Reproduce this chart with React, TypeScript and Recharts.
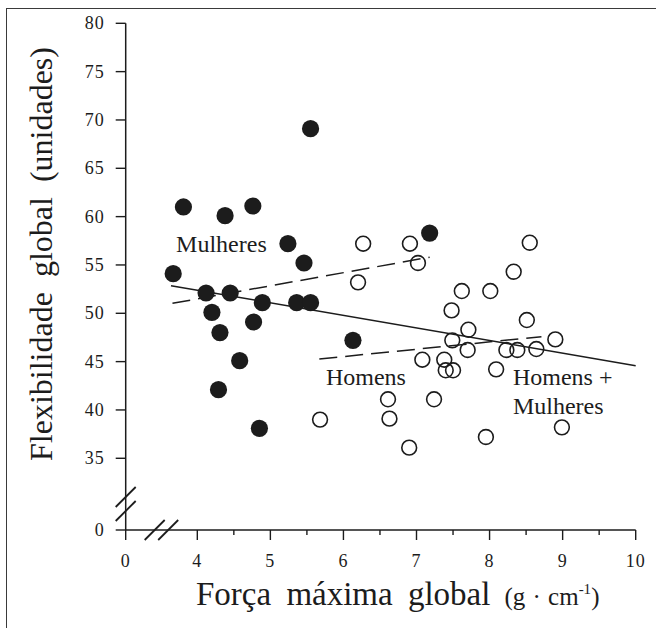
import { ScatterChart, Scatter, XAxis, YAxis, ReferenceLine } from 'recharts';

const FONT = '"Liberation Serif", "Times New Roman", serif';
const INK = '#1c1c1c';

// Mulheres (círculos cheios): força máxima global × flexibilidade global
const WOMEN_FORCE = [5.55, 3.81, 4.38, 4.76, 5.24, 5.46, 3.67, 4.12, 4.45, 4.89, 5.36, 5.55, 4.2, 4.77, 4.31, 6.13, 4.58, 4.29, 4.85, 7.18];
const WOMEN_FLEX = [69.1, 61.0, 60.1, 61.1, 57.2, 55.2, 54.1, 52.1, 52.1, 51.1, 51.1, 51.1, 50.1, 49.1, 48.0, 47.2, 45.1, 42.1, 38.1, 58.3];

// Homens (círculos abertos)
const MEN_FORCE = [6.27, 6.2, 6.91, 7.02, 8.55, 8.33, 7.62, 8.01, 7.48, 8.51, 7.71, 8.9, 7.49, 7.7, 8.23, 8.38, 8.64, 7.08, 7.38, 7.4, 7.5, 8.09, 6.61, 7.24, 6.63, 6.9, 7.95, 8.99, 5.68];
const MEN_FLEX = [57.2, 53.2, 57.2, 55.2, 57.3, 54.3, 52.3, 52.3, 50.3, 49.3, 48.3, 47.3, 47.2, 46.2, 46.2, 46.2, 46.3, 45.2, 45.2, 44.1, 44.1, 44.2, 41.1, 41.1, 39.1, 36.1, 37.2, 38.2, 39.0];

// retas de regressão (extremos)
const ALL_FIT_X = [3.64, 10.0];
const ALL_FIT_Y = [52.86, 44.58];
const WOMEN_FIT_X = [3.66, 7.18];
const WOMEN_FIT_Y = [51.03, 55.8];
const MEN_FIT_X = [5.67, 8.71];
const MEN_FIT_Y = [45.27, 47.58];

// eixos com corte: o "0" fica logo antes do corte
const X_ZERO = 3.02;
const Y_ZERO = 27.58;
const X_MAJOR = [X_ZERO, 4, 5, 6, 7, 8, 9, 10];
const X_MAJOR_LABELS = ['0', '4', '5', '6', '7', '8', '9', '10'];
const X_MINOR = [4.5, 5.5, 6.5, 7.5, 8.5, 9.5];
const Y_TICKS = [Y_ZERO, 35, 40, 45, 50, 55, 60, 65, 70, 75, 80];
const Y_TICK_LABELS = ['0', '35', '40', '45', '50', '55', '60', '65', '70', '75', '80'];

// anotações
const NOTE_TEXT = ['Mulheres', 'Homens', 'Homens +', 'Mulheres'];
const NOTE_X = [3.71, 5.76, 8.32, 8.32];
const NOTE_Y = [56.37, 42.58, 42.58, 39.58];

const women = WOMEN_FORCE.map((x, i) => ({ x, y: WOMEN_FLEX[i] }));
const men = MEN_FORCE.map((x, i) => ({ x, y: MEN_FLEX[i] }));
const notes = NOTE_TEXT.map((label, i) => ({ x: NOTE_X[i], y: NOTE_Y[i], label }));
const xTicks = [...X_MAJOR, ...X_MINOR].sort((a, b) => a - b);

const fits = [
  { xs: ALL_FIT_X, ys: ALL_FIT_Y, dash: undefined },
  { xs: WOMEN_FIT_X, ys: WOMEN_FIT_Y, dash: '18 8' },
  { xs: MEN_FIT_X, ys: MEN_FIT_Y, dash: '18 8' },
];

function XTick({ x, y, payload }: any) {
  const idx = X_MAJOR.indexOf(payload.value);
  const major = idx >= 0;
  return (
    <g>
      <line x1={x} y1={y} x2={x} y2={y + (major ? 10 : 5)} stroke={INK} strokeWidth={1.4} />
      {major && (
        <text x={x} y={y + 37} textAnchor="middle" fontFamily={FONT} fontSize={18} fill={INK} letterSpacing={1}>
          {X_MAJOR_LABELS[idx]}
        </text>
      )}
      {payload.value === X_ZERO && (
        <g stroke={INK} strokeWidth={1.8}>
          <line x1={x + 19} y1={y + 10} x2={x + 39} y2={y - 10} />
          <line x1={x + 32.5} y1={y + 10} x2={x + 52.5} y2={y - 10} />
        </g>
      )}
    </g>
  );
}

function YTick({ x, y, payload }: any) {
  const idx = Y_TICKS.indexOf(payload.value);
  return (
    <g>
      <line x1={x - 10} y1={y} x2={x} y2={y} stroke={INK} strokeWidth={1.4} />
      <text x={x - 21} y={y + 6} textAnchor="end" fontFamily={FONT} fontSize={18} fill={INK} letterSpacing={1}>
        {Y_TICK_LABELS[idx]}
      </text>
      {payload.value === Y_ZERO && (
        <g stroke={INK} strokeWidth={1.8}>
          <line x1={x - 10} y1={y - 23} x2={x + 10} y2={y - 43} />
          <line x1={x - 10} y1={y - 9} x2={x + 10} y2={y - 29} />
        </g>
      )}
    </g>
  );
}

function XTitle() {
  return (
    <text x={196} y={605} fontFamily={FONT} fill={INK}>
      <tspan fontSize={33} style={{ wordSpacing: 7 }}>Força máxima global</tspan>
      <tspan fontSize={25} dx={14} style={{ wordSpacing: 1 }}>(g · cm</tspan>
      <tspan fontSize={15} dy={-11}>-1</tspan>
      <tspan fontSize={25} dy={11}>)</tspan>
    </text>
  );
}

function YTitle() {
  return (
    <text
      transform="translate(51.7,254) rotate(-90)"
      textAnchor="middle"
      fontFamily={FONT}
      fontSize={32}
      fill={INK}
      style={{ wordSpacing: 7 }}
    >
      Flexibilidade global (unidades)
    </text>
  );
}

const FilledDot = ({ cx, cy }: any) => <circle cx={cx} cy={cy} r={8.6} fill={INK} />;
const OpenDot = ({ cx, cy }: any) => (
  <circle cx={cx} cy={cy} r={7.4} fill="none" stroke={INK} strokeWidth={1.6} />
);
const Note = ({ cx, cy, payload }: any) => (
  <text x={cx} y={cy} fontFamily={FONT} fontSize={24} fill={INK}>
    {payload.label}
  </text>
);

export default function App() {
  return (
    <div style={{ position: 'absolute', left: 0, top: 0, width: 656, height: 628, overflow: 'hidden', background: '#fff' }}>
      <div
        style={{
          position: 'absolute',
          left: 6,
          top: 7.5,
          width: 700,
          height: 700,
          borderTop: '1.5px solid #3a3a3a',
          borderLeft: '1.5px solid #3a3a3a',
        }}
      />
      <div style={{ position: 'absolute', left: 0, top: 0 }}>
        <ScatterChart width={656} height={628} margin={{ top: 23.3, right: 20.3, bottom: 0, left: 0 }}>
          <XAxis
            type="number"
            dataKey="x"
            domain={[X_ZERO, 10]}
            allowDataOverflow
            ticks={xTicks}
            interval={0}
            tickSize={0}
            tickMargin={0}
            tickLine={false}
            tick={<XTick />}
            axisLine={{ stroke: INK, strokeWidth: 1.5 }}
            height={98}
            label={<XTitle />}
          />
          <YAxis
            type="number"
            dataKey="y"
            domain={[Y_ZERO, 80]}
            allowDataOverflow
            ticks={Y_TICKS}
            interval={0}
            tickSize={0}
            tickMargin={0}
            tickLine={false}
            tick={<YTick />}
            axisLine={{ stroke: INK, strokeWidth: 1.5 }}
            width={125.7}
            label={<YTitle />}
          />
          <Scatter data={women} shape={FilledDot} isAnimationActive={false} />
          <Scatter data={men} shape={OpenDot} isAnimationActive={false} />
          <Scatter data={notes} shape={Note} isAnimationActive={false} />
          {fits.map((f, i) => (
            <ReferenceLine
              key={i}
              segment={[
                { x: f.xs[0], y: f.ys[0] },
                { x: f.xs[1], y: f.ys[1] },
              ]}
              stroke={INK}
              strokeWidth={1.5}
              strokeDasharray={f.dash}
              ifOverflow="visible"
            />
          ))}
        </ScatterChart>
      </div>
    </div>
  );
}
